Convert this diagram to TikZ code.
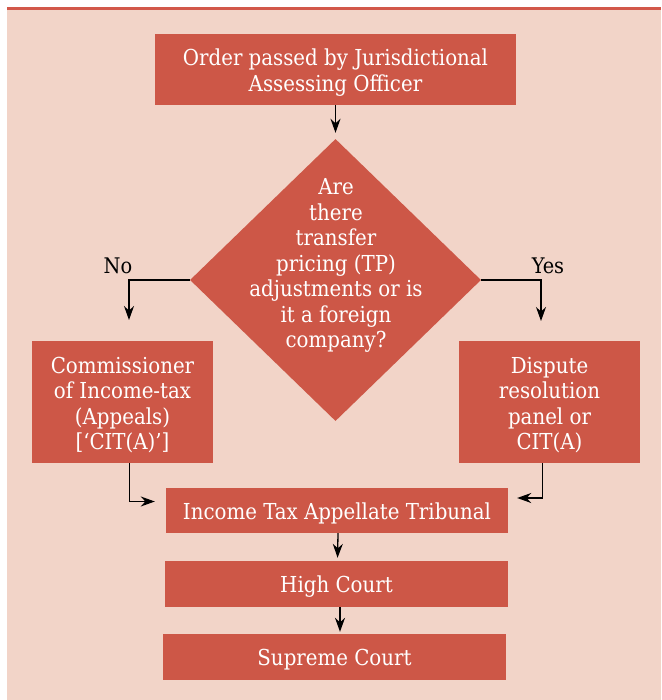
\documentclass[tikz,border=0pt]{standalone}
\usepackage{fontspec}
\setmainfont{DejaVu Serif Condensed}
\usetikzlibrary{arrows.meta}
\usetikzlibrary{shapes.geometric}
\definecolor{kastenrot}{HTML}{CD5747}
\definecolor{grundrosa}{HTML}{F2D4C8}
\definecolor{linierot}{HTML}{D2584A}
\newcommand{\hochzeile}{\rule{0pt}{22.5pt}}
\tikzset{
    kasten/.style={rectangle, fill=kastenrot, text=white, inner sep=0pt, align=center,
        font=\fontsize{22}{25.5}\selectfont},
    raute/.style={diamond, fill=kastenrot, inner sep=0pt},
    pfeil/.style={-{Stealth[length=14pt,width=10pt]}, line width=1.3pt, black},
    marke/.style={font=\fontsize{21.5}{24}\selectfont, text=black, anchor=south, inner sep=2pt},
}
\begin{document}
\begin{tikzpicture}[x=1pt, y=-1pt]
        \useasboundingbox (0,0) rectangle (661,700);
        % Hintergrund
        \fill[grundrosa] (7,10) rectangle (661,700);
        \draw[linierot, line width=2.5pt] (7,8.5) -- (661,8.5);
        % Kaesten
        \node[kasten, minimum width=361pt, minimum height=71pt] (order) at (335.5,69.5)
            {\hochzeile Order passed by Jurisdictional\\Assessing Officer};
        \node[raute, minimum width=291pt, minimum height=282pt] (frage) at (335.5,280) {};
        \node[kasten, fill=none] (fragetext) at (336,265.5)
            {Are\\there\\transfer\\pricing (TP)\\adjustments or is\\it a foreign\\company?};
        \node[kasten, minimum width=181pt, minimum height=122pt] (cita) at (122.5,402)
            {\hochzeile Commissioner\\of Income-tax\\(Appeals)\\{}[‘CIT(A)’]};
        \node[kasten, minimum width=181pt, minimum height=122pt] (drp) at (549.5,402)
            {\hochzeile Dispute\\resolution\\panel or\\CIT(A)};
        \node[kasten, minimum width=342pt, minimum height=45pt] (itat) at (337,510.5)
            {\hochzeile Income Tax Appellate Tribunal};
        \node[kasten, minimum width=343pt, minimum height=46pt] (high) at (336.5,584)
            {\hochzeile High Court};
        \node[kasten, minimum width=343pt, minimum height=46pt] (supreme) at (334.5,657)
            {\hochzeile Supreme Court};
        % Verbindungen
        \coordinate (nein) at (129,320);
        \coordinate (ja) at (541,321);
        \draw[pfeil, shorten >=6pt] (order.south) -- (frage.north);
        \draw[pfeil] (frage.west) -| (nein) node[marke, pos=0.5, xshift=-11pt, yshift=4pt] {No};
        \draw[pfeil] (frage.east) -| (ja) node[marke, pos=0.5, xshift=7pt, yshift=4pt] {Yes};
        \draw[pfeil, shorten >=11pt] ([xshift=7pt]cita.south) |- ([yshift=9pt]itat.west);
        \draw[pfeil, shorten >=9pt] ([xshift=-7pt]drp.south) |- ([yshift=12.5pt]itat.east);
        \draw[pfeil, shorten >=3pt] ([xshift=1pt]itat.south) -- ([xshift=1pt]high.north);
        \draw[pfeil, shorten >=2pt] ([xshift=3.5pt]high.south) -- ([xshift=3.5pt]high.south |- supreme.north);
\end{tikzpicture}
\end{document}
